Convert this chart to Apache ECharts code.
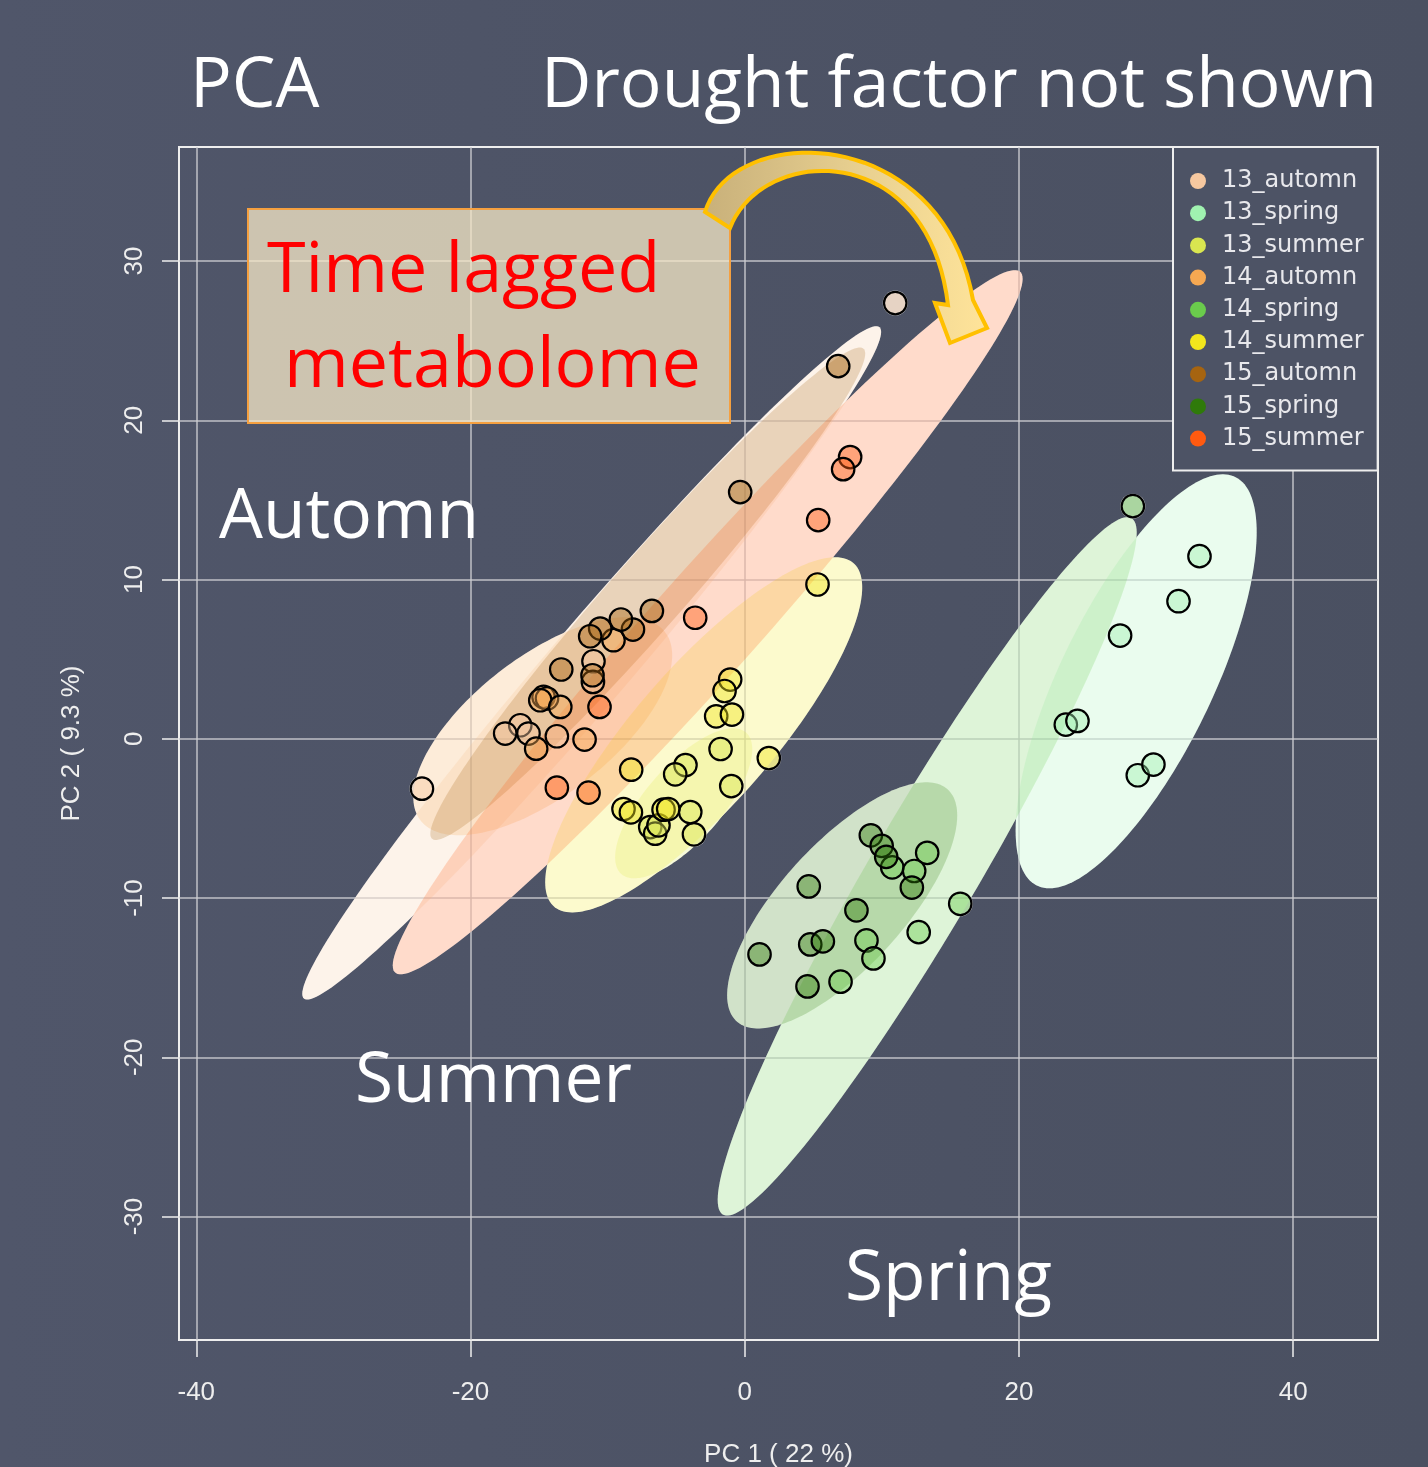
<!DOCTYPE html>
<html><head><meta charset="utf-8">
<script src="https://cdn.jsdelivr.net/npm/echarts@6/dist/echarts.min.js"></script>
<style>html,body{margin:0;padding:0;background:#4d5365;overflow:hidden;}#c{width:1428px;height:1467px;}</style>
</head><body><div id="c"></div>
<script>
// ---- data ----
const groups = ['13_automn','13_spring','13_summer','14_automn','14_spring','14_summer','15_automn','15_spring','15_summer'];
const groupColors = ['#f6c8a0','#a0f2b0','#d9e650','#f5a852','#6acb4c','#f2e61c','#a66410','#2f7a0a','#ff5a10'];

const pts_13_automn = [[10.98,27.36],[-11.03,4.87],[-11.07,3.57],[-16.37,0.85],[-17.47,0.33],[-13.70,0.16],[-15.77,0.33],[-23.54,-3.13]];
const pts_13_spring = [[33.17,11.47],[31.64,8.64],[27.38,6.48],[23.42,0.89],[24.27,1.12],[28.67,-2.29],[29.81,-1.62]];
const pts_13_summer = [[-1.76,-0.64],[-0.98,-2.97],[-4.32,-1.65],[-5.07,-2.23],[-3.97,-4.60],[-6.89,-5.54],[-6.53,-5.96],[-3.70,-6.00],[-6.29,-5.43]];
const pts_14_automn = [[-9.57,6.19],[-14.67,2.63],[-14.42,2.53],[-14.91,2.42],[-13.45,2.00],[-15.21,-0.62],[-11.68,-0.05]];
const pts_14_spring = [[28.31,14.61],[10.76,-8.07],[13.31,-7.16],[12.36,-8.30],[15.72,-10.36],[12.69,-12.14],[8.88,-12.66],[9.39,-13.79],[6.99,-15.25]];
const pts_14_summer = [[5.31,9.69],[-1.06,3.72],[-1.47,3.00],[-2.08,1.41],[-0.93,1.52],[1.76,-1.21],[-8.28,-1.94],[-8.84,-4.41],[-8.30,-4.62],[-5.92,-4.45],[-5.58,-4.41]];
const pts_15_automn = [[6.82,23.40],[-0.33,15.49],[-6.77,8.03],[-8.15,6.86],[-9.03,7.49],[-10.54,6.92],[-11.27,6.44],[-13.38,4.35],[-11.10,3.99]];
const pts_15_spring = [[9.20,-6.06],[9.99,-6.72],[10.32,-7.41],[12.19,-9.34],[4.67,-9.27],[8.15,-10.77],[4.78,-12.91],[5.70,-12.72],[1.08,-13.54],[4.58,-15.55]];
const pts_15_summer = [[7.69,17.69],[7.18,16.93],[5.36,13.73],[-3.61,7.60],[-10.59,2.00],[-13.70,-3.07],[-11.39,-3.38]];
const groupPoints = [pts_13_automn,pts_13_spring,pts_13_summer,pts_14_automn,pts_14_spring,pts_14_summer,pts_15_automn,pts_15_spring,pts_15_summer];

// confidence ellipses per group (data units): centre, spread, correlation
const ellCx  = [-11.16, 28.55, -4.45, -14.73, 13.31, -2.99, -7.07,  7.11, -2.70];
const ellCy  = [  4.77,  3.61, -4.05,   0.79, -8.01,  0.25,  9.11,-10.46,  7.32];
const ellSx  = [ 21.11,  8.79,  5.00,   9.44, 15.28, 11.56, 15.86,  8.39, 22.97];
const ellSy  = [ 21.14, 13.00,  4.71,   6.85, 21.93, 11.15, 15.46,  7.73, 22.11];
const ellRho = [ 0.983,  0.72,  0.72,   0.65, 0.955,  0.83, 0.975,  0.73, 0.975];

const xTicks = [-40,-20,0,20,40];
const yTicks = [-30,-20,-10,0,10,20,30];
const xRange = [-41.26, 46.19];
const yRange = [-37.75, 37.16];
const xName = 'PC 1 ( 22 %)';
const yName = 'PC 2 ( 9.3 %)';

// ---- helpers ----
function rgba(hex,a){const n=parseInt(hex.slice(1),16);return 'rgba('+((n>>16)&255)+','+((n>>8)&255)+','+(n&255)+','+a+')';}
function ellipsePolygon(i, api){
  const r=ellRho[i], q=Math.sqrt(1-r*r), pts=[];
  for(let k=0;k<180;k++){
    const t=2*Math.PI*k/180;
    const x=ellCx[i]+ellSx[i]*Math.cos(t);
    const y=ellCy[i]+ellSy[i]*(r*Math.cos(t)+q*Math.sin(t));
    pts.push(api.coord([x,y]));
  }
  return pts;
}
function bez(p0,p1,p2,p3,n){
  const out=[];
  for(let k=0;k<=n;k++){const t=k/n,u=1-t;
    out.push([u*u*u*p0[0]+3*u*u*t*p1[0]+3*u*t*t*p2[0]+t*t*t*p3[0], u*u*u*p0[1]+3*u*u*t*p1[1]+3*u*t*t*p2[1]+t*t*t*p3[1]]);}
  return out;
}
// decorative arrow outline (annotation, not data)
const arrowPts = [].concat(
  bez([705,212],[732,122],[942,122],[973,300],40),
  [[987,328],[950,343],[935,303]],
  bez([948,305],[928,138],[762,145],[730,228],40)
);

const ellData = groups.map((g,i)=>[ellCx[i],ellCy[i],i]);
const allPts = [].concat(...groupPoints);

const BG='#4d5365';
const axisFont='Liberation Sans';
const chart = echarts.init(document.getElementById('c'));

const series = [
  {type:'custom', name:'ellBase', z:1, silent:true, data:ellData, encode:{x:0,y:1},
   renderItem:(p,api)=>({type:'polygon',shape:{points:ellipsePolygon(api.value(2),api)},style:{fill:'#ffffff'}})},
  {type:'scatter', name:'ptBase', z:1, silent:true, data:allPts, symbolSize:25,
   itemStyle:{color:'#ffffff',borderWidth:0}},
  {type:'custom', name:'ellFill', z:3, silent:true, data:ellData, encode:{x:0,y:1},
   renderItem:(p,api)=>{const i=api.value(2);return {type:'polygon',shape:{points:ellipsePolygon(i,api)},style:{fill:rgba(groupColors[i],0.22)}};}}
];
groups.forEach((g,i)=>{
  series.push({type:'scatter', name:g, z:4, data:groupPoints[i], symbolSize:22.5,
    itemStyle:{color:rgba(groupColors[i],0.43), borderColor:'#000', borderWidth:2.2, opacity:1},
    emphasis:{disabled:true}});
});

const T='69.5px "Open Sans"';
const option = {
  backgroundColor:{type:'linear',x:0,y:0,x2:1,y2:0,colorStops:[{offset:0,color:'#50566a'},{offset:1,color:'#4a5061'}]},
  animation:false,
  grid:{left:179,right:50,top:147,bottom:127,outerBoundsMode:'none',containLabel:false,show:true,borderColor:'#eeeeee',borderWidth:2,backgroundColor:'transparent'},
  xAxis:{type:'value',min:xRange[0],max:xRange[1],z:2,
    axisLine:{show:false,onZero:false},
    axisTick:{show:true,length:17,customValues:xTicks,lineStyle:{color:'#eeeeee',width:1.5}},
    axisLabel:{customValues:xTicks,margin:40,color:'#eeeeee',fontSize:26,fontFamily:axisFont},
    splitLine:{show:true,lineStyle:{color:'rgba(205,205,210,0.9)',width:1.5}},
    name:xName,nameLocation:'middle',nameGap:102,nameTextStyle:{color:'#eeeeee',fontSize:26,fontFamily:axisFont}},
  yAxis:{type:'value',min:yRange[0],max:yRange[1],z:2,
    axisLine:{show:false,onZero:false},
    axisTick:{show:true,length:17,customValues:yTicks,lineStyle:{color:'#eeeeee',width:1.5}},
    axisLabel:{customValues:yTicks,margin:31,rotate:90,color:'#eeeeee',fontSize:26,fontFamily:axisFont},
    splitLine:{show:true,lineStyle:{color:'rgba(205,205,210,0.9)',width:1.5}},
    name:yName,nameLocation:'middle',nameGap:94,nameTextStyle:{color:'#eeeeee',fontSize:26,fontFamily:axisFont}},
  legend:{orient:'vertical',left:1173,top:147,z:10,padding:[22,14,20,17],itemGap:8.2,itemWidth:16,itemHeight:16,icon:'circle',
    backgroundColor:BG,borderColor:'#eeeeee',borderWidth:2,selectedMode:false,
    formatter:'{a|{name}}',
    textStyle:{color:'#e8e8ec',fontSize:24,fontFamily:'DejaVu Sans',
      rich:{a:{padding:[0,0,0,11],fontSize:24,lineHeight:24,fontFamily:'DejaVu Sans',color:'#e8e8ec'}}},
    data:groups.map((g,i)=>({name:g,itemStyle:{color:groupColors[i],borderWidth:0,opacity:1}}))},
  series:series,
  graphic:[
    {type:'text',z:20,style:{text:'PCA',x:190,y:87,fill:'#ffffff',font:T,textAlign:'left',textVerticalAlign:'middle'}},
    {type:'text',z:20,style:{text:'Drought factor not shown',x:541,y:87,fill:'#ffffff',font:T,textAlign:'left',textVerticalAlign:'middle'}},
    {type:'text',z:20,style:{text:'Automn',x:219,y:518,fill:'#ffffff',font:T,textAlign:'left',textVerticalAlign:'middle'}},
    {type:'text',z:20,style:{text:'Summer',x:355,y:1082,fill:'#ffffff',font:T,textAlign:'left',textVerticalAlign:'middle'}},
    {type:'text',z:20,style:{text:'Spring',x:845,y:1280,fill:'#ffffff',font:T,textAlign:'left',textVerticalAlign:'middle'}},
    {type:'rect',z:20,shape:{x:248,y:209,width:482,height:214},style:{fill:'rgba(244,231,198,0.76)',stroke:'#f5a040',lineWidth:2}},
    {type:'text',z:21,style:{text:'Time lagged',x:267,y:272,fill:'#ff0000',font:'70px "Open Sans"',textAlign:'left',textVerticalAlign:'middle'}},
    {type:'text',z:21,style:{text:'metabolome',x:284,y:367,fill:'#ff0000',font:'70px "Open Sans"',textAlign:'left',textVerticalAlign:'middle'}},
    {type:'polygon',z:22,shape:{points:arrowPts},
     style:{fill:{type:'linear',x:0,y:0,x2:1,y2:0,colorStops:[{offset:0,color:'#c8b07a'},{offset:0.55,color:'#e8d090'},{offset:1,color:'#ffe49a'}]},stroke:'#ffc000',lineWidth:4,lineJoin:'miter'}}
  ]
};
chart.setOption(option);
</script></body></html>
